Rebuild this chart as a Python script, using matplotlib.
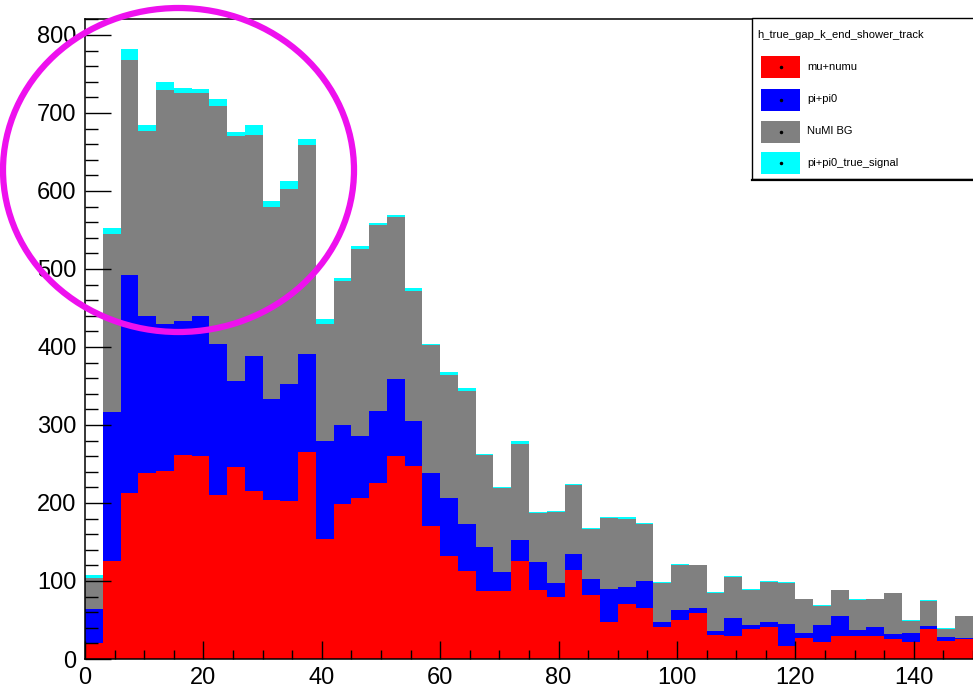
import numpy as np
import matplotlib.pyplot as plt
from matplotlib.patches import Ellipse, Rectangle
from matplotlib.ticker import MultipleLocator

plt.rcParams['font.family'] = ['Liberation Sans', 'DejaVu Sans']

# 50 bins of width 3 on [0, 150]
bin_edges = np.arange(0, 151, 3)

mu_numu = [21, 125, 213, 239, 241, 261, 260, 210, 246, 215,
           204, 203, 266, 154, 199, 206, 226, 260, 248, 170,
           132, 113, 87, 87, 126, 88, 79, 114, 82, 48,
           71, 66, 41, 50, 59, 31, 30, 38, 41, 17,
           27, 22, 30, 30, 30, 26, 22, 38, 23, 26]
pi_pi0 = [43, 192, 279, 201, 188, 172, 180, 194, 111, 174,
          129, 150, 125, 126, 101, 80, 92, 99, 57, 68,
          74, 60, 56, 24, 26, 36, 18, 21, 21, 42,
          21, 34, 7, 13, 7, 5, 22, 6, 7, 28,
          6, 21, 25, 7, 11, 6, 11, 4, 5, 1]
numi_bg = [40, 228, 276, 237, 301, 293, 286, 305, 313, 283,
           247, 249, 268, 150, 185, 240, 238, 208, 167, 164,
           158, 171, 118, 108, 124, 63, 92, 88, 64, 91,
           88, 73, 50, 58, 54, 49, 53, 45, 51, 53,
           44, 25, 33, 39, 36, 52, 16, 32, 11, 28]
pi_pi0_true_signal = [4, 7, 14, 8, 10, 6, 5, 9, 6, 12,
                      7, 11, 8, 6, 3, 4, 3, 2, 4, 2,
                      4, 3, 2, 2, 3, 2, 1, 1, 0.5, 0.5,
                      2, 1.5, 0.5, 1, 1, 0.5, 2, 0.5, 1, 1,
                      0.5, 1, 1, 0.5, 0.5, 1, 0.5, 1, 0.5, 0.5]

names = ["mu+numu", "pi+pi0", "NuMI BG", "pi+pi0_true_signal"]
colors = ["#ff0000", "#0000ff", "#808080", "#00ffff"]
hist_title = "h_true_gap_k_end_shower_track"

W, H = 973, 688
fig = plt.figure(figsize=(W / 100, H / 100), dpi=100)


def fx(px):
    return px / W


def fy(py):
    return 1 - py / H


ax = fig.add_axes([fx(85), fy(659), fx(973) - fx(85), fy(19) - fy(659)])

# stack the histograms bottom-up
bottom = np.zeros(len(bin_edges) - 1)
for vals, c in zip([mu_numu, pi_pi0, numi_bg, pi_pi0_true_signal], colors):
    top = bottom + np.array(vals, dtype=float)
    ax.stairs(top, bin_edges, baseline=bottom, fill=True, color=c, lw=0)
    bottom = top

ax.set_xlim(0, 150)
ax.set_ylim(0, 820.5)
ax.xaxis.set_major_locator(MultipleLocator(20))
ax.xaxis.set_minor_locator(MultipleLocator(5))
ax.yaxis.set_major_locator(MultipleLocator(100))
ax.yaxis.set_minor_locator(MultipleLocator(20))
ax.tick_params(which='both', direction='in', labelsize=17, width=1.0,
               top=False, right=False)
ax.tick_params(axis='y', which='major', length=19, pad=6)
ax.tick_params(axis='y', which='minor', length=9.5)
ax.tick_params(axis='x', which='major', length=13, pad=5.5)
ax.tick_params(axis='x', which='minor', length=6.5)
for s in ['left', 'bottom', 'top']:
    ax.spines[s].set_linewidth(1.1)
ax.spines['right'].set_visible(False)

# legend box, ROOT style
box = Rectangle((fx(752), fy(179)), fx(985) - fx(752), fy(18) - fy(179),
                transform=fig.transFigure, facecolor='white', edgecolor='black',
                lw=1.0, zorder=5, clip_on=False)
fig.add_artist(box)
fig.add_artist(plt.Line2D([fx(752), fx(985)], [fy(179.5), fy(179.5)],
                          transform=fig.transFigure, color='black', lw=1.6, zorder=6))
fig.text(fx(757), fy(35.5), hist_title, fontsize=8, va='center', ha='left', zorder=7)
entry_y = [67, 99.5, 131.5, 163]
for name, c, ey in zip(names, colors, entry_y):
    sw = Rectangle((fx(761), fy(ey + 11)), fx(800) - fx(761), fy(ey - 11) - fy(ey + 11),
                   transform=fig.transFigure, facecolor=c, lw=0, zorder=7)
    fig.add_artist(sw)
    fig.add_artist(plt.Line2D([fx(780.5)], [fy(ey)], transform=fig.transFigure,
                              marker='o', ms=1.5, color='black', zorder=8))
    fig.text(fx(807), fy(ey), name, fontsize=8, va='center', ha='left', zorder=7)

# highlight ring over the low-x region
ring = Ellipse((fx(178.5), fy(170)), 351 / W, 324 / H, transform=fig.transFigure,
               fill=False, edgecolor='#ee11ee', lw=4.5, zorder=10, clip_on=False)
fig.add_artist(ring)

fig.savefig('out.png', dpi=100)
